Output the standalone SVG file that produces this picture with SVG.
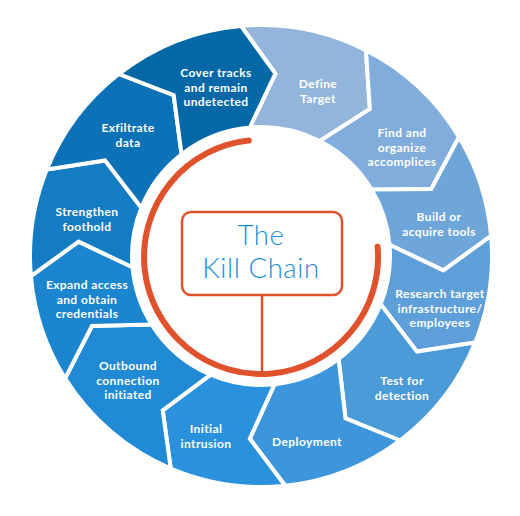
<svg xmlns="http://www.w3.org/2000/svg" width="520" height="516" viewBox="0 0 520 516">
<style>
.seg{stroke:#fff;stroke-width:4;stroke-linejoin:miter}
.lbl{font-family:Lato,"Open Sans","Liberation Sans",sans-serif;font-weight:700;font-size:12px;letter-spacing:0.4px;fill:#fff;text-anchor:middle}
.title{font-family:Lato,"Open Sans","Liberation Sans",sans-serif;font-weight:300;font-size:27.5px;letter-spacing:0.6px;fill:#1b8dd6;text-anchor:middle}
.red{fill:none;stroke:#e0522c;stroke-linecap:round}
</style>
<rect width="520" height="516" fill="#fff"/>
<g id="define-target">
<path class="seg" fill="#93b5dc" d="M240.9,25.9 A231,231 0 0 1 365.9,50.2 L369.9,108.9 L319.6,141.1 A129,129 0 0 0 249.8,127.5 L275.4,73.6 Z"/>
<text class="lbl" x="318" y="88">Define</text><text class="lbl" x="318" y="102.5">Target</text>
</g>
<g id="find-accomplices">
<path class="seg" fill="#80addc" d="M365.9,50.2 A231,231 0 0 1 459.0,137.0 L431.3,188.9 L371.6,189.6 A129,129 0 0 0 319.6,141.1 L369.9,108.9 Z"/>
<text class="lbl" x="402" y="137">Find and</text><text class="lbl" x="402" y="151.5">organize</text><text class="lbl" x="402" y="166">accomplices</text>
</g>
<g id="build-tools">
<path class="seg" fill="#6fa6da" d="M459.0,137.0 A231,231 0 0 1 491.1,235.9 L443.4,270.4 L389.5,244.8 A129,129 0 0 0 371.6,189.6 L431.3,188.9 Z"/>
<text class="lbl" x="439" y="221">Build or</text><text class="lbl" x="439" y="235.5">acquire tools</text>
</g>
<g id="research-target">
<path class="seg" fill="#5e9fd9" d="M491.1,235.9 A231,231 0 0 1 475.2,342.5 L417.0,351.6 L380.6,304.3 A129,129 0 0 0 389.5,244.8 L443.4,270.4 Z"/>
<text class="lbl" x="440" y="298">Research target</text><text class="lbl" x="440" y="312.5">infrastructure/</text><text class="lbl" x="440" y="327">employees</text>
</g>
<g id="test-detection">
<path class="seg" fill="#4c9bd9" d="M475.2,342.5 A231,231 0 0 1 400.0,440.5 L345.5,418.3 L338.6,359.0 A129,129 0 0 0 380.6,304.3 L417.0,351.6 Z"/>
<text class="lbl" x="402" y="385">Test for</text><text class="lbl" x="402" y="399.5">detection</text>
</g>
<g id="deployment">
<path class="seg" fill="#3d96db" d="M400.0,440.5 A231,231 0 0 1 285.2,485.7 L249.8,438.7 L274.5,384.3 A129,129 0 0 0 338.6,359.0 L345.5,418.3 Z"/>
<text class="lbl" x="307" y="446">Deployment</text>
</g>
<g id="initial-intrusion">
<path class="seg" fill="#2a91dc" d="M285.2,485.7 A231,231 0 0 1 170.7,468.6 L162.7,410.3 L210.6,374.7 A129,129 0 0 0 274.5,384.3 L249.8,438.7 Z"/>
<text class="lbl" x="206" y="433">Initial</text><text class="lbl" x="206" y="447.5">intrusion</text>
</g>
<g id="outbound-connection">
<path class="seg" fill="#218ad4" d="M170.7,468.6 A231,231 0 0 1 65.1,378.4 L91.9,326.0 L151.6,324.4 A129,129 0 0 0 210.6,374.7 L162.7,410.3 Z"/>
<text class="lbl" x="128" y="370">Outbound</text><text class="lbl" x="128" y="384.5">connection</text><text class="lbl" x="128" y="399">initiated</text>
</g>
<g id="expand-access">
<path class="seg" fill="#1b85cf" d="M65.1,378.4 A231,231 0 0 1 30.9,276.1 L78.6,241.6 L132.5,267.2 A129,129 0 0 0 151.6,324.4 L91.9,326.0 Z"/>
<text class="lbl" x="87" y="289">Expand access</text><text class="lbl" x="87" y="303.5">and obtain</text><text class="lbl" x="87" y="318">credentials</text>
</g>
<g id="strengthen-foothold">
<path class="seg" fill="#137cc3" d="M30.9,276.1 A231,231 0 0 1 46.8,169.5 L105.0,160.4 L141.4,207.7 A129,129 0 0 0 132.5,267.2 L78.6,241.6 Z"/>
<text class="lbl" x="87" y="216">Strengthen</text><text class="lbl" x="87" y="230.5">foothold</text>
</g>
<g id="exfiltrate-data">
<path class="seg" fill="#0b72b7" d="M46.8,169.5 A231,231 0 0 1 118.8,74.0 L173.7,95.2 L181.6,154.4 A129,129 0 0 0 141.4,207.7 L105.0,160.4 Z"/>
<text class="lbl" x="128" y="132">Exfiltrate</text><text class="lbl" x="128" y="147">data</text>
</g>
<g id="cover-tracks">
<path class="seg" fill="#0468a7" d="M118.8,74.0 A231,231 0 0 1 240.9,25.9 L275.4,73.6 L249.8,127.5 A129,129 0 0 0 181.6,154.4 L173.7,95.2 Z"/>
<text class="lbl" x="216" y="77">Cover tracks</text><text class="lbl" x="216" y="91.5">and remain</text><text class="lbl" x="216" y="106">undetected</text>
</g>
<g id="connectors">
<path class="red" stroke-width="6" d="M377.6,246.8 A117,117 0 1 1 248.8,140.6"/>
<line x1="262" y1="295" x2="262" y2="372" stroke="#e0522c" stroke-width="2.5"/>
</g>
<g id="kill-chain">
<rect x="182" y="212" width="160" height="83" rx="9" fill="#fff" stroke="#e0522c" stroke-width="2.5"/>
<text class="title" x="261" y="245">The</text>
<text class="title" x="261" y="278">Kill Chain</text>
</g>
</svg>
